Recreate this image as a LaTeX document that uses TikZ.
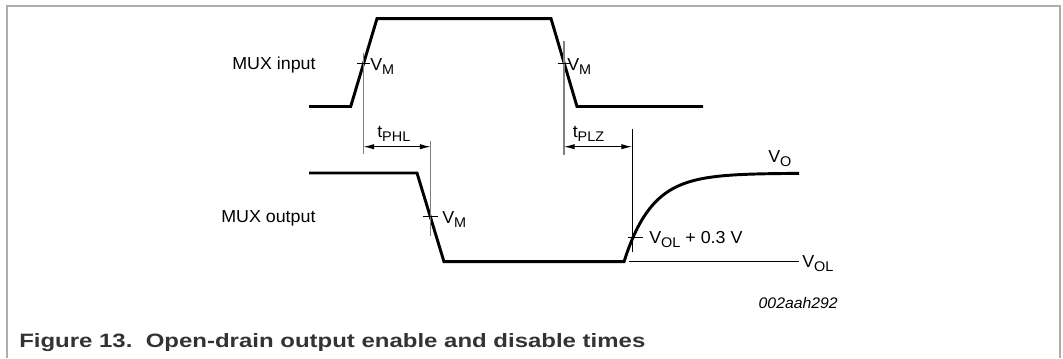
\documentclass[tikz,border=0pt]{standalone}
\usepackage{fontspec}
\setmainfont[FakeStretch=1.03]{Liberation Sans}
\newfontfamily\capfont[FakeStretch=1.24]{Liberation Sans}
\usetikzlibrary{arrows.meta}
\newcommand{\subtxt}[1]{\raisebox{-0.45ex}{\fontsize{10.5}{11}\selectfont #1}}

\begin{document}
\begin{tikzpicture}[x=0.75pt,y=-0.75pt]
	\def \inlo{106.5}
	\def \inhi{18.6}
	\def \outhi{173}
	\def \outlo{261.7}
	\tikzstyle{wave}=[draw=black,line width=2.2pt,line join=miter]
	\tikzstyle{m-line}=[draw=black!50,line width=1.2pt]
	\tikzstyle{thin-line}=[draw=black,line width=0.7pt]
	\tikzstyle{dim}=[draw=black,line width=0.7pt,{Latex[length=8pt,width=4pt]}-{Latex[length=8pt,width=4pt]}]
	\tikzstyle{annot}=[inner sep=0pt,anchor=base west,font=\fontsize{13}{15}\selectfont]
	\useasboundingbox (0,0) rectangle (1063,358);
	% frame
	\draw[draw=black!32,line width=1.4pt] (7,358) -- (7,6) -- (1060,6) -- (1060,358);
	% input waveform
	\coordinate (in0) at (309,\inlo);
	\coordinate (in1) at (350.7,\inlo);
	\coordinate (in2) at (377,\inhi);
	\coordinate (in3) at (551,\inhi);
	\coordinate (in4) at (577,\inlo);
	\coordinate (in5) at (703,\inlo);
	\draw[wave] (in0) -- (in1) -- (in2) -- (in3) -- (in4) -- (in5);
	% output waveform
	\coordinate (out0) at (309,\outhi);
	\coordinate (out1) at (417,\outhi);
	\coordinate (out2) at (444,\outlo);
	\coordinate (out3) at (624,\outlo);
	\draw[wave] (out0) -- (out1) -- (out2) -- (out3)
		-- plot[domain=0:175,samples=70] ({624+\x},{\outlo-88.5*(1-exp(-\x/28))});
	% measure points
	\coordinate (vm-up)  at (363.5,63);
	\coordinate (vm-dn)  at (564,63);
	\coordinate (vm-out) at (430.5,216.7);
	\coordinate (vol-x)  at (632,237.7);
	\coordinate (dimrow) at (0,146.7);
	\draw[m-line] (vm-up) ++(0,-10) -- ++(0,101);
	\draw[m-line] (vm-dn) ++(0,-22) -- ++(0,114);
	\draw[m-line] (vm-out) ++(0,-76) -- ++(0,95.3);
	\draw[thin-line] (vol-x) ++(0,-109.2) -- ++(0,123.5);
	% ticks
	\draw[thin-line] (vm-up) ++(-6.5,0) -- ++(13,0);
	\draw[thin-line] (vm-dn) ++(-6.5,0) -- ++(13,0);
	\draw[thin-line] (vm-out) ++(-7.5,0) -- ++(15,0);
	\draw[thin-line] (vol-x) ++(-4,0) -- ++(15,0);
	% VOL level
	\coordinate (vol-a) at (629,\outlo);
	\coordinate (vol-b) at (799,\outlo);
	\draw[thin-line] (vol-a) -- (vol-b);
	% times
	\draw[dim] (vm-up |- dimrow) -- (vm-out |- dimrow);
	\draw[dim] (vm-dn |- dimrow) -- (vol-x |- dimrow);
	% labels
	\node[annot] (in-label)     at (232,69)    {MUX input};
	\node[annot] (out-label)    at (221,222)   {MUX output};
	\node[annot] (vm-up-label)  at (370,70)    {V\subtxt{M}};
	\node[annot] (vm-dn-label)  at (567,70)    {V\subtxt{M}};
	\node[annot] (vm-out-label) at (442,223)   {V\subtxt{M}};
	\node[annot] (phl-label)    at (377,137)   {t\subtxt{PHL}};
	\node[annot] (plz-label)    at (572.5,137) {t\subtxt{PLZ}};
	\node[annot] (vo-label)     at (768,162)   {V\subtxt{O}};
	\node[annot] (volp-label)   at (649,243)   {V\subtxt{OL} + 0.3 V};
	\node[annot] (vol-label)    at (802,267)   {V\subtxt{OL}};
	\node[annot,anchor=base east,font=\itshape\fontsize{11.5}{13}\selectfont] (code-label) at (838,308) {002aah292};
	\node[annot,text=black!80,font=\capfont\bfseries\fontsize{14.5}{16}\selectfont] (caption) at (19,347)
		{Figure 13.\ \ Open-drain output enable and disable times};
\end{tikzpicture}
\end{document}
